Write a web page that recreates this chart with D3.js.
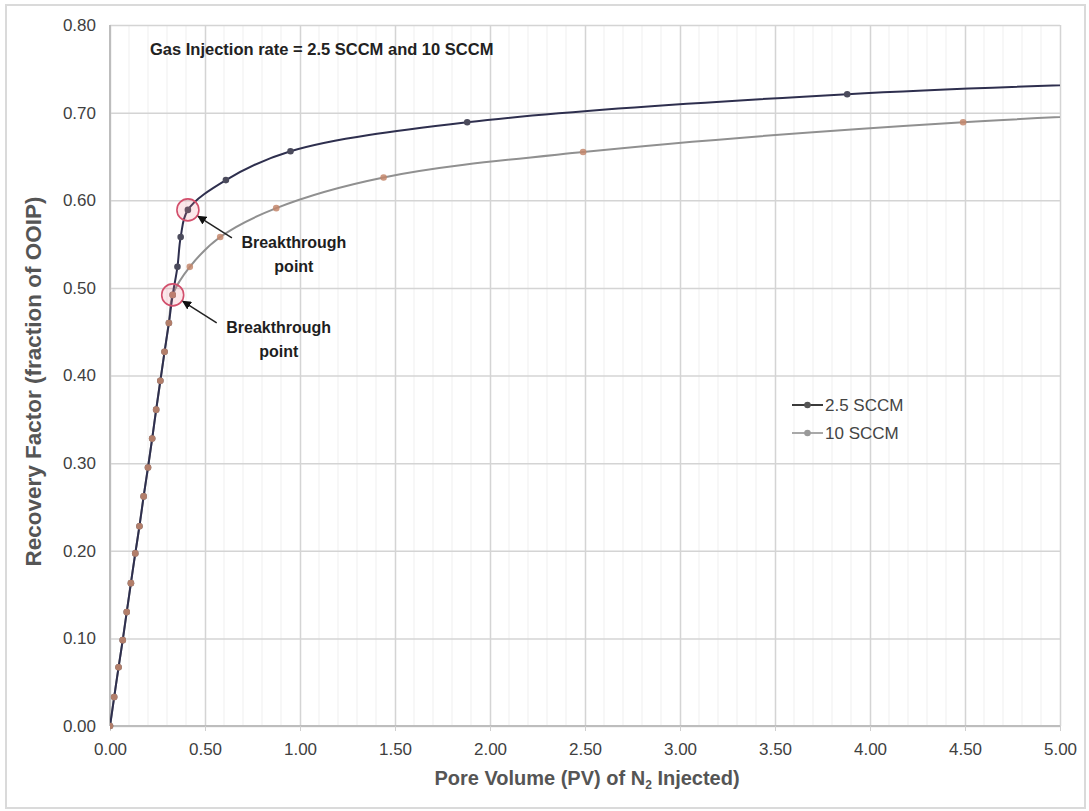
<!DOCTYPE html>
<html>
<head>
<meta charset="utf-8">
<script src="https://cdn.jsdelivr.net/npm/d3@7"></script>
<style>
  body { margin: 0; background: #fff; }
  svg text { font-family: "Liberation Sans", Arial, sans-serif; }
</style>
</head>
<body>
<svg id="chart" width="1089" height="811"></svg>
<script>
// Pore volume injected (PV) and recovery factor (fraction of OOIP) per series.
// The last point of each series lies past the axis end; the plot clips it.
const pv25 = [0, 0.022, 0.045, 0.067, 0.088, 0.11, 0.133, 0.155, 0.177, 0.2, 0.222, 0.243, 0.265, 0.287, 0.31, 0.33, 0.355, 0.372, 0.41, 0.61, 0.95, 1.88, 3.88, 5.9];
const rf25 = [0, 0.033, 0.067, 0.098, 0.130, 0.163, 0.197, 0.228, 0.262, 0.295, 0.328, 0.361, 0.394, 0.427, 0.46, 0.492, 0.524, 0.558, 0.589, 0.623, 0.656, 0.689, 0.721, 0.737];
const pv10 = [0, 0.022, 0.045, 0.067, 0.088, 0.11, 0.133, 0.155, 0.177, 0.2, 0.222, 0.243, 0.265, 0.287, 0.31, 0.33, 0.42, 0.58, 0.875, 1.44, 2.49, 4.49, 6.5];
const rf10 = [0, 0.033, 0.067, 0.098, 0.130, 0.163, 0.197, 0.228, 0.262, 0.295, 0.328, 0.361, 0.394, 0.427, 0.46, 0.492, 0.524, 0.558, 0.591, 0.626, 0.655, 0.689, 0.708];
const seriesNames = ["2.5 SCCM", "10 SCCM"];
// Index of the gas breakthrough point within each series
const breakthroughIndex = [18, 15];
const breakthroughLabel = ["Breakthrough", "point"];
const xTickValues = [0, 0.5, 1, 1.5, 2, 2.5, 3, 3.5, 4, 4.5, 5];
const yTickValues = [0, 0.1, 0.2, 0.3, 0.4, 0.5, 0.6, 0.7, 0.8];
const chartTitle = "Gas Injection rate = 2.5 SCCM and 10 SCCM";
const yTitle = "Recovery Factor (fraction of OOIP)";

const W = 1089, H = 811;
const plot = { left: 110, right: 1060, top: 25, bottom: 726 };
const svg = d3.select("#chart");

const x = d3.scaleLinear().domain([0, 5]).range([plot.left, plot.right]);
const y = d3.scaleLinear().domain([0, 0.8]).range([plot.bottom, plot.top]);

const series = [
  { name: seriesNames[0], pv: pv25, rf: rf25, line: "#2e2f4e", marker: "#4b4b5c", legendLine: "#3a3a3a", legendMarker: "#555" },
  { name: seriesNames[1], pv: pv10, rf: rf10, line: "#909090", marker: "#c4876c", legendLine: "#a8a8a8", legendMarker: "#9a9a9a" }
];
series.forEach(s => { s.pts = s.pv.map((v, i) => [v, s.rf[i]]); });

// outer frame
svg.append("rect")
  .attr("x", 6).attr("y", 5).attr("width", W - 10).attr("height", H - 8)
  .attr("fill", "#fff").attr("stroke", "#dadada").attr("stroke-width", 2);

// minor vertical grid
svg.append("g").selectAll("line")
  .data(d3.range(1, 50).map(i => i / 10).filter(v => Math.abs(v * 2 - Math.round(v * 2)) > 1e-6))
  .join("line")
  .attr("x1", d => x(d)).attr("x2", d => x(d))
  .attr("y1", plot.top).attr("y2", plot.bottom)
  .attr("stroke", "#efefef").attr("stroke-width", 1);

// major grid
const gridX = svg.append("g").attr("transform", `translate(0,${plot.bottom})`)
  .call(d3.axisBottom(x).tickValues(xTickValues).tickSize(-(plot.bottom - plot.top)).tickFormat(""));
const gridY = svg.append("g").attr("transform", `translate(${plot.left},0)`)
  .call(d3.axisLeft(y).tickValues(yTickValues).tickSize(-(plot.right - plot.left)).tickFormat(""));
[gridX, gridY].forEach(g => {
  g.select(".domain").remove();
  g.selectAll(".tick line").attr("stroke", "#d4d4d4").attr("stroke-width", 1.5);
});

// axis lines
svg.append("line").attr("x1", plot.left).attr("x2", plot.left).attr("y1", plot.top).attr("y2", plot.bottom)
  .attr("stroke", "#bdbdbd").attr("stroke-width", 2);
svg.append("line").attr("x1", plot.left).attr("x2", plot.right).attr("y1", plot.bottom).attr("y2", plot.bottom)
  .attr("stroke", "#bdbdbd").attr("stroke-width", 2);

// tick labels
const fmt = d3.format(".2f");
const xAxis = svg.append("g").attr("transform", `translate(0,${plot.bottom})`)
  .call(d3.axisBottom(x).tickValues(xTickValues).tickFormat(fmt).tickSize(5).tickPadding(12));
const yAxis = svg.append("g").attr("transform", `translate(${plot.left},0)`)
  .call(d3.axisLeft(y).tickValues(yTickValues).tickFormat(fmt).tickSize(0).tickPadding(14));
[xAxis, yAxis].forEach(g => {
  g.select(".domain").remove();
  g.selectAll(".tick line").attr("stroke", "#cfcfcf");
  g.selectAll(".tick text").attr("font-size", 17).attr("fill", "#3f3f3f")
    .style("font-family", '"Liberation Sans", Arial, sans-serif');
});

// clip to plot area
svg.append("clipPath").attr("id", "plotClip").append("rect")
  .attr("x", plot.left).attr("y", plot.top - 6)
  .attr("width", plot.right - plot.left).attr("height", plot.bottom - plot.top + 12);

// smoothed lines through the measured points
const line = d3.line().x(d => x(d[0])).y(d => y(d[1])).curve(d3.curveCatmullRom.alpha(0.5));
const body = svg.append("g").attr("clip-path", "url(#plotClip)");

// lines: 10 SCCM underneath, 2.5 SCCM on top
[series[1], series[0]].forEach(s => {
  body.append("path").datum(s.pts)
    .attr("fill", "none").attr("stroke", s.line).attr("stroke-width", 2)
    .attr("stroke-linejoin", "round").attr("d", line);
});
[series[0], series[1]].forEach((s, k) => {
  body.append("g").selectAll("circle").data(s.pts).join("circle")
    .attr("cx", d => x(d[0])).attr("cy", d => y(d[1])).attr("r", 3.3)
    .attr("fill", s.marker).attr("fill-opacity", k === 1 ? 0.85 : 1);
});

// breakthrough markers and call-outs
const defs = svg.append("defs");
defs.append("marker").attr("id", "arrowHead")
  .attr("viewBox", "0 0 10 10").attr("refX", 9).attr("refY", 5)
  .attr("markerWidth", 6).attr("markerHeight", 6).attr("orient", "auto")
  .append("path").attr("d", "M0,0 L10,5 L0,10 z").attr("fill", "#111");

series.forEach((s, k) => {
  const p = s.pts[breakthroughIndex[k]];
  const cx = x(p[0]), cy = y(p[1]);
  svg.append("circle").attr("cx", cx).attr("cy", cy).attr("r", 11)
    .attr("fill", "rgba(236,120,140,0.18)").attr("stroke", "#d24f6c").attr("stroke-width", 1.6);
  const ang = Math.atan2(28, 44);
  svg.append("line")
    .attr("x1", cx + 44).attr("y1", cy + 28)
    .attr("x2", cx + 12 * Math.cos(ang)).attr("y2", cy + 12 * Math.sin(ang))
    .attr("stroke", "#222").attr("stroke-width", 1.5).attr("marker-end", "url(#arrowHead)");
  const t = svg.append("text").attr("text-anchor", "middle")
    .attr("font-size", 16).attr("font-weight", "bold").attr("fill", "#1e1e1e");
  t.append("tspan").attr("x", cx + 106).attr("y", cy + 38).text(breakthroughLabel[0]);
  t.append("tspan").attr("x", cx + 106).attr("y", cy + 62).text(breakthroughLabel[1]);
});

// chart title
svg.append("text").attr("x", 150).attr("y", 55)
  .attr("font-size", 16.5).attr("font-weight", "bold").attr("fill", "#222")
  .text(chartTitle);

// legend
const legend = svg.append("g").attr("transform", "translate(792,405)");
series.forEach((s, i) => {
  const g = legend.append("g").attr("transform", `translate(0,${i * 28})`);
  g.append("line").attr("x1", 0).attr("x2", 31).attr("y1", 0).attr("y2", 0)
    .attr("stroke", s.legendLine).attr("stroke-width", 2);
  g.append("circle").attr("cx", 15.5).attr("cy", 0).attr("r", 3.3).attr("fill", s.legendMarker);
  g.append("text").attr("x", 33).attr("y", 6).attr("font-size", 17).attr("fill", "#444")
    .text(s.name);
});

// axis titles
const xt = svg.append("text").attr("x", (plot.left + plot.right) / 2 + 2).attr("y", 785)
  .attr("text-anchor", "middle").attr("font-size", 20).attr("font-weight", "bold").attr("fill", "#555");
xt.append("tspan").text("Pore Volume (PV) of N");
xt.append("tspan").attr("font-size", 12).attr("dy", 4).text("2");
xt.append("tspan").attr("dy", -4).text(" Injected)");

svg.append("text")
  .attr("transform", `translate(41,${(plot.top + plot.bottom) / 2 + 6}) rotate(-90)`)
  .attr("text-anchor", "middle").attr("font-size", 22.5).attr("font-weight", "bold").attr("fill", "#555")
  .text(yTitle);
</script>
</body>
</html>
